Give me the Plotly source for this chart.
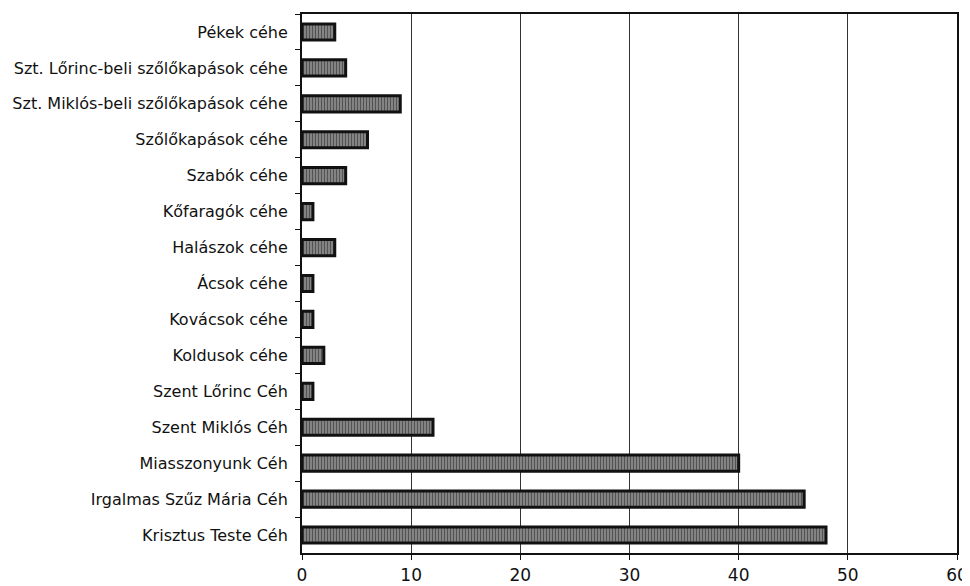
import plotly.graph_objects as go

categories = [
    "Pékek céhe",
    "Szt. Lőrinc-beli szőlőkapások céhe",
    "Szt. Miklós-beli szőlőkapások céhe",
    "Szőlőkapások céhe",
    "Szabók céhe",
    "Kőfaragók céhe",
    "Halászok céhe",
    "Ácsok céhe",
    "Kovácsok céhe",
    "Koldusok céhe",
    "Szent Lőrinc Céh",
    "Szent Miklós Céh",
    "Miasszonyunk Céh",
    "Irgalmas Szűz Mária Céh",
    "Krisztus Teste Céh",
]
values = [3, 4, 9, 6, 4, 1, 3, 1, 1, 2, 1, 12, 40, 46, 48]
x_ticks = [0, 10, 20, 30, 40, 50, 60]

fig = go.Figure(
    go.Bar(
        y=categories,
        x=values,
        orientation="h",
        width=0.45,
        marker=dict(
            color="#777777",
            line=dict(color="#111111", width=3),
            pattern=dict(shape="|", fgcolor="#1a1a1a", bgcolor="#8c8c8c",
                         size=3, solidity=0.45),
        ),
    )
)

fig.update_layout(
    width=962,
    height=578,
    margin=dict(l=294, r=13, t=6, b=33),
    plot_bgcolor="white",
    paper_bgcolor="white",
    showlegend=False,
    font=dict(family="DejaVu Sans, Liberation Sans, sans-serif", color="#111111"),
    bargap=0.5,
)

fig.update_xaxes(
    range=[0, 60],
    tickvals=x_ticks,
    ticktext=[str(v) for v in x_ticks],
    showgrid=True,
    gridcolor="#333333",
    gridwidth=1,
    showline=True,
    linecolor="#111111",
    linewidth=1.5,
    mirror=True,
    ticks="outside",
    ticklen=5,
    tickcolor="#111111",
    tickfont=dict(size=17),
    ticklabelstandoff=1,
    zeroline=False,
    automargin=False,
)

fig.update_yaxes(
    autorange="reversed",
    showline=True,
    linecolor="#111111",
    linewidth=2,
    mirror=True,
    ticks="outside",
    tickson="boundaries",
    ticklen=5,
    tickcolor="#111111",
    tickfont=dict(size=16),
    ticklabelstandoff=9,
    showgrid=False,
    automargin=False,
)

fig.write_html("out.html")
